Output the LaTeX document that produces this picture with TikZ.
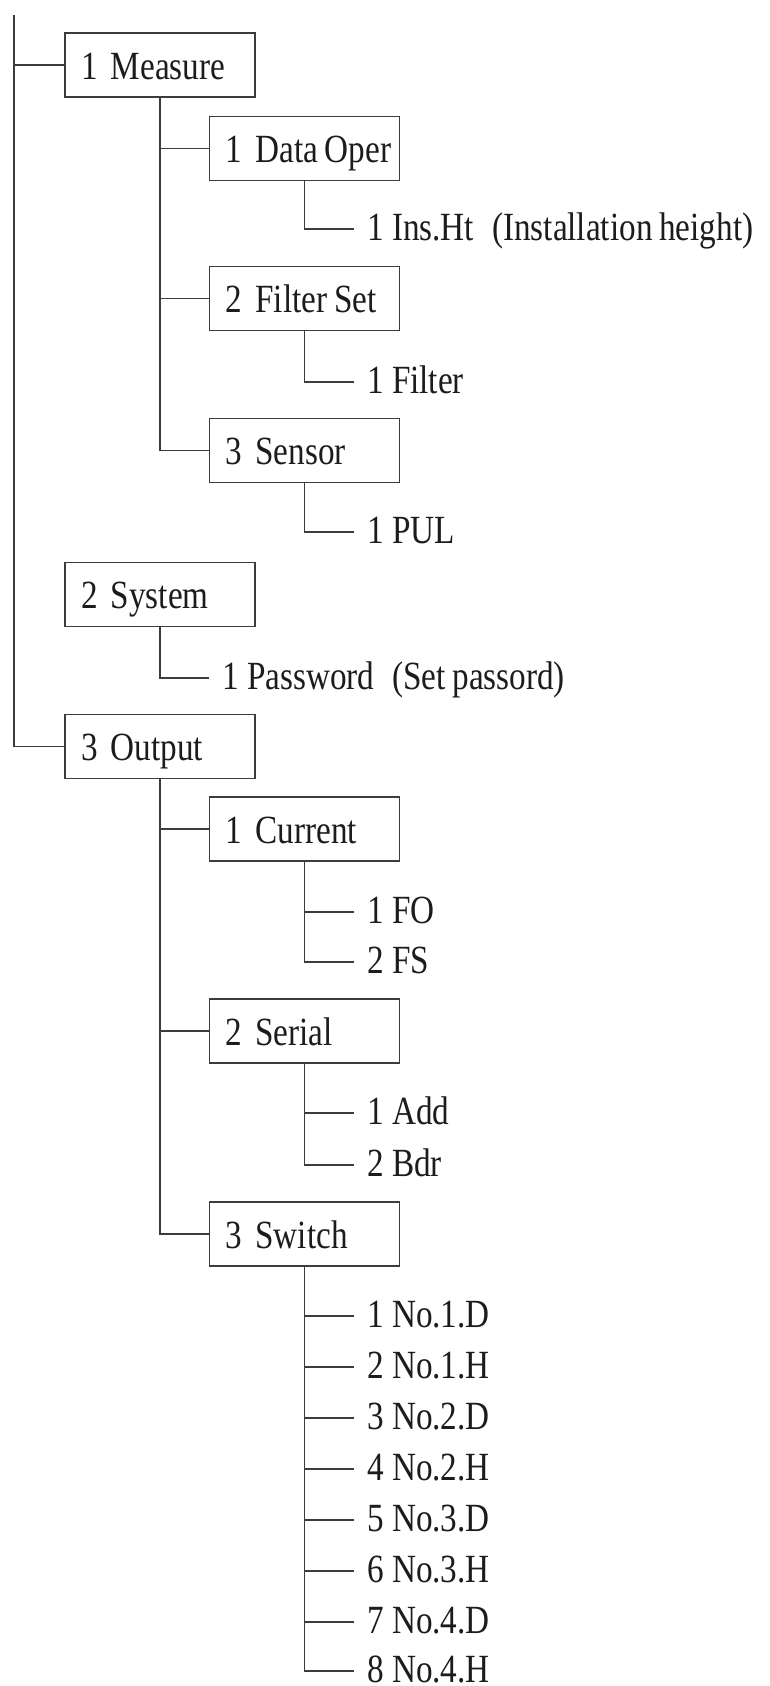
\documentclass[tikz,border=0pt]{standalone}
\usepackage{fontspec}
\setmainfont[FakeStretch=0.83]{Liberation Serif}
\usepackage{xcolor}
\usepackage{tikz}
\usetikzlibrary{positioning}
\definecolor{ink}{HTML}{1C1C1C}
\definecolor{wire}{HTML}{3C3C3C}
\tikzset{
  menubox/.style={draw=wire, line width=1.8pt, minimum width=190pt, minimum height=64pt,
    text width=158pt, inner xsep=16pt, inner ysep=0pt, align=left,
    text height=28pt, text depth=0pt, font=\fontsize{40}{40}\selectfont, text=ink},
  leaf/.style={anchor=west, inner xsep=13pt, inner ysep=0pt, text height=22pt, text depth=0pt,
    font=\fontsize{40}{40}\selectfont, text=ink},
  branch/.style={draw=wire, line width=1.8pt}
}
\begin{document}
\begin{tikzpicture}[x=1pt,y=-1pt]
  \useasboundingbox (0,0) rectangle (769,1686);
  \fill[white] (0,0) rectangle (769,1686);
  % top level
  \coordinate (root) at (14,15);
  \node[menubox] (measure) at (160,65) {1 Measure};
  \node[menubox] (system) at (160,594.5) {2 System};
  \node[menubox] (output) at (160,746.5) {3 Output};
  % measure menu
  \node[menubox] (dataoper) at (304.5,148.5) {1~Data\,Oper};
  \node[menubox] (filterset) at (304.5,298.5) {2~Filter\,Set};
  \node[menubox] (sensor) at (304.5,450.5) {3 Sensor};
  \node[leaf] (insht) at (354,229) {1 Ins.Ht\hspace{18pt}(Installation\,height)};
  \node[leaf] (filter) at (354,382) {1 Filter};
  \node[leaf] (pul) at (354,532) {1 PUL};
  % system menu
  \node[leaf] (password) at (209,678) {1 Password\hspace{18pt}(Set\,passord)};
  % output menu
  \node[menubox] (current) at (304.5,829) {1 Current};
  \node[menubox] (serial) at (304.5,1031) {2 Serial};
  \node[menubox] (switch) at (304.5,1234) {3 Switch};
  \node[leaf] (fo) at (354,912) {1 FO};
  \node[leaf] (fs) at (354,962) {2 FS};
  \node[leaf] (add) at (354,1113) {1 Add};
  \node[leaf] (bdr) at (354,1165) {2 Bdr};
  \node[leaf] (sw1) at (354,1316) {1 No.1.D};
  \node[leaf] (sw2) at (354,1367) {2 No.1.H};
  \node[leaf] (sw3) at (354,1418) {3 No.2.D};
  \node[leaf] (sw4) at (354,1469) {4 No.2.H};
  \node[leaf] (sw5) at (354,1520) {5 No.3.D};
  \node[leaf] (sw6) at (354,1571) {6 No.3.H};
  \node[leaf] (sw7) at (354,1622) {7 No.4.D};
  \node[leaf] (sw8) at (354,1671) {8 No.4.H};
  % connectors
  \draw[branch] (root) |- (measure.west);
  \draw[branch] (root) |- (output.west);
  \draw[branch] (measure.south) |- (dataoper.west);
  \draw[branch] (measure.south) |- (filterset.west);
  \draw[branch] (measure.south) |- (sensor.west);
  \draw[branch] (dataoper.south) |- (insht.west);
  \draw[branch] (filterset.south) |- (filter.west);
  \draw[branch] (sensor.south) |- (pul.west);
  \draw[branch] (system.south) |- (password.west);
  \draw[branch] (output.south) |- (current.west);
  \draw[branch] (output.south) |- (serial.west);
  \draw[branch] (output.south) |- (switch.west);
  \draw[branch] (current.south) |- (fo.west);
  \draw[branch] (current.south) |- (fs.west);
  \draw[branch] (serial.south) |- (add.west);
  \draw[branch] (serial.south) |- (bdr.west);
  \draw[branch] (switch.south) |- (sw1.west);
  \draw[branch] (switch.south) |- (sw2.west);
  \draw[branch] (switch.south) |- (sw3.west);
  \draw[branch] (switch.south) |- (sw4.west);
  \draw[branch] (switch.south) |- (sw5.west);
  \draw[branch] (switch.south) |- (sw6.west);
  \draw[branch] (switch.south) |- (sw7.west);
  \draw[branch] (switch.south) |- (sw8.west);
\end{tikzpicture}
\end{document}
